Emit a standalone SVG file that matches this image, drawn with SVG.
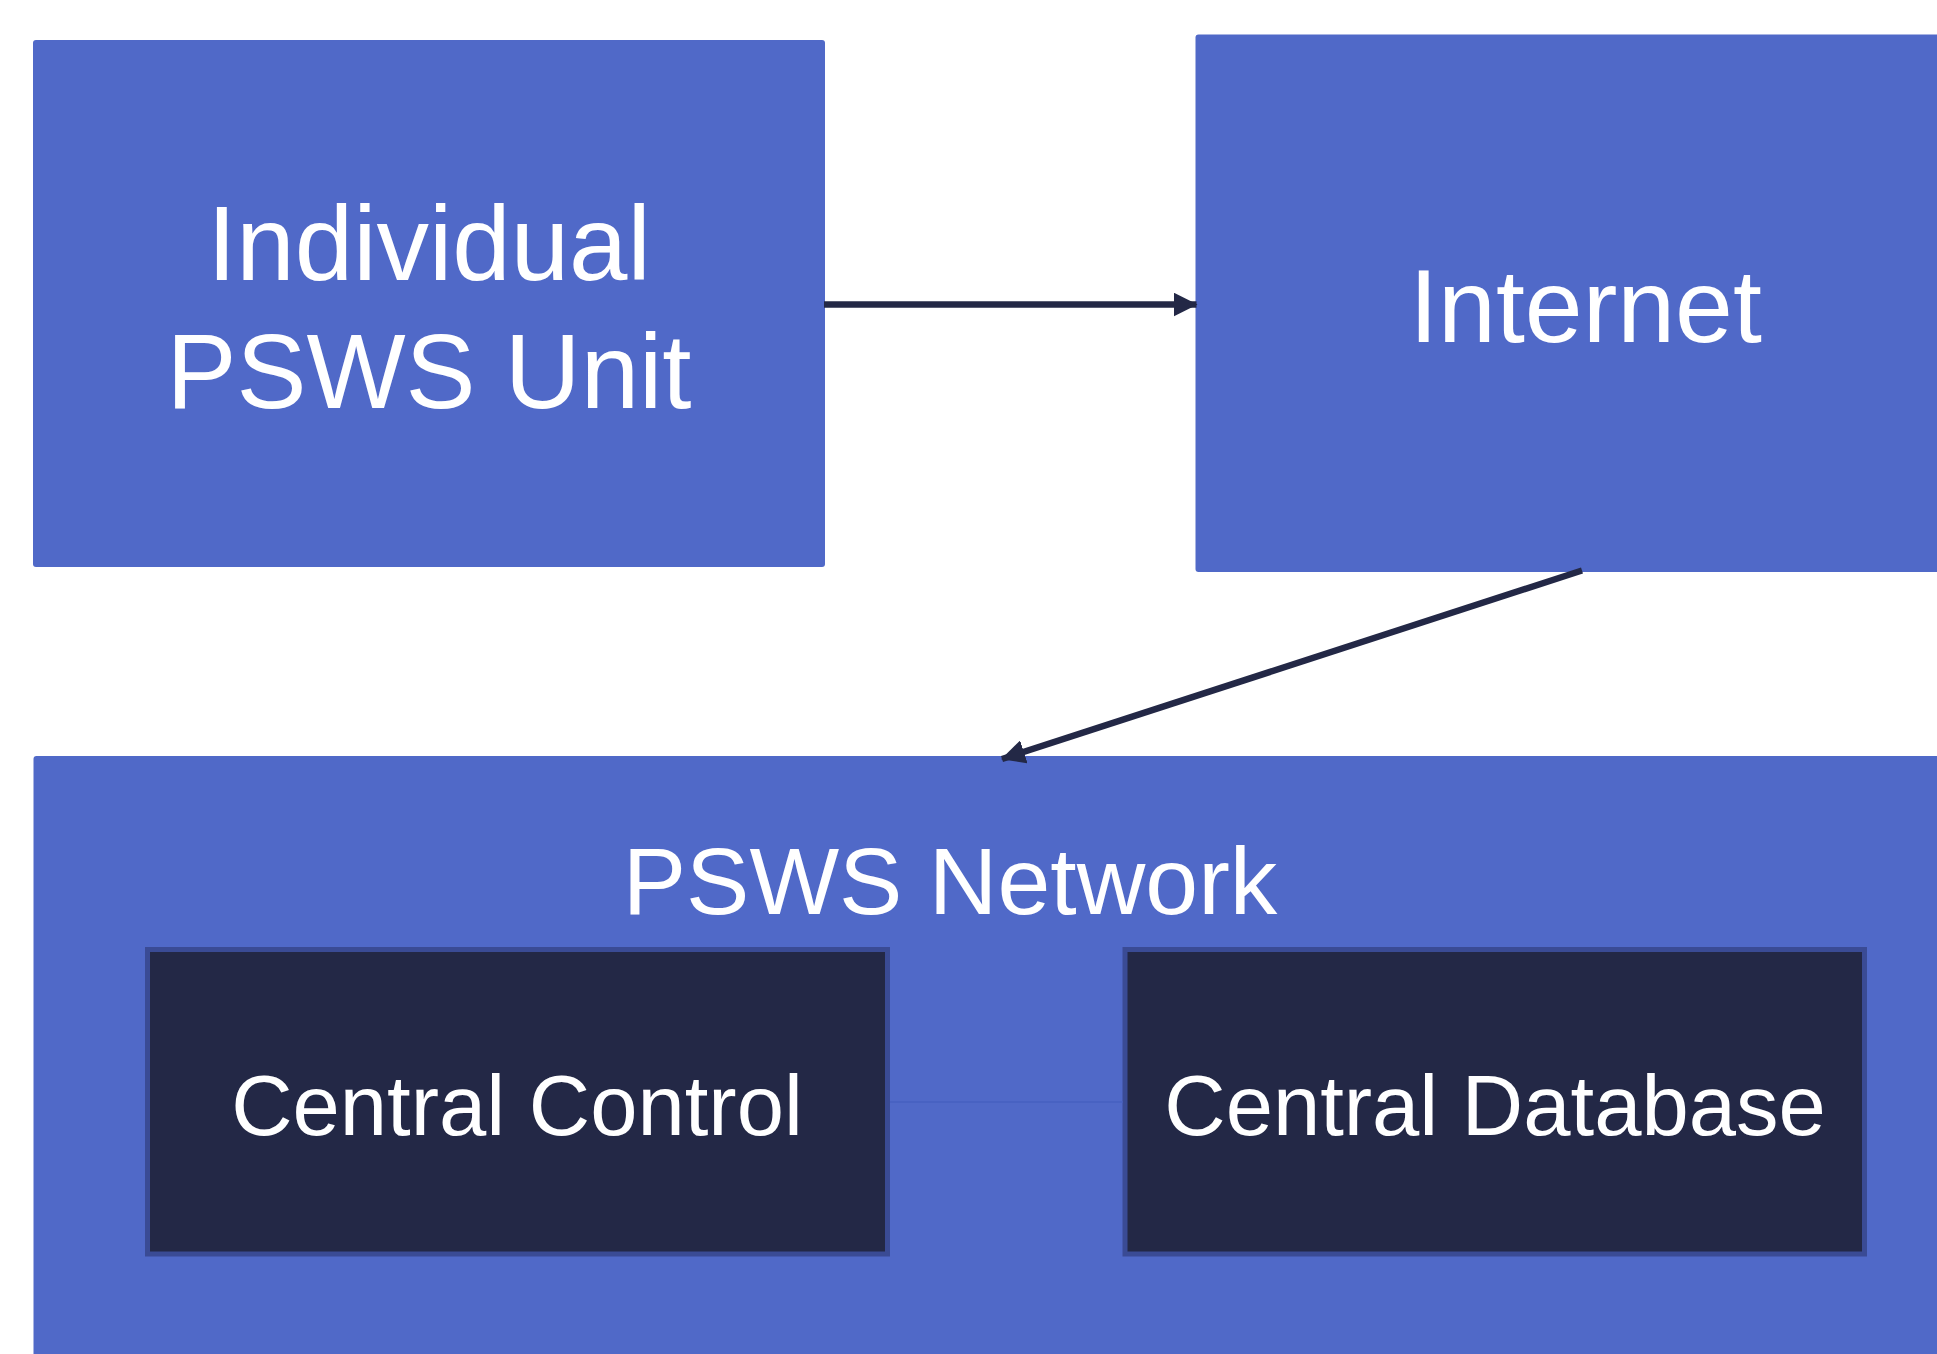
<svg xmlns="http://www.w3.org/2000/svg" width="1937" height="1354" viewBox="0 0 1937 1354">
  <style>
    .panel { fill: #5069c8; }
    .inner { fill: #232846; stroke: #3a4b95; stroke-width: 5; }
    .label { fill: #ffffff; font-family: "Liberation Sans", Arial, sans-serif; text-anchor: middle; }
    .flow { stroke: #232846; stroke-width: 6.5; fill: none; }
    .link { stroke: #4862c2; stroke-width: 2; fill: none; }
  </style>
  <defs>
    <marker id="arrow" viewBox="0 0 24 24" refX="23" refY="12" markerWidth="24" markerHeight="24" markerUnits="userSpaceOnUse" orient="auto">
      <path d="M0,0 L24,12 L0,24 Z" fill="#232846"/>
    </marker>
  </defs>
  <rect width="1937" height="1354" fill="#ffffff"/>

  <g id="network">
    <rect class="panel" x="33.5" y="756" width="1960" height="640" rx="3"/>
    <text class="label" x="950" y="914" font-size="95">PSWS Network</text>
  </g>

  <g id="individual-unit">
    <rect class="panel" x="33" y="40" width="792" height="527" rx="3"/>
    <text class="label" x="429" y="280" font-size="105">Individual</text>
    <text class="label" x="429" y="408" font-size="105">PSWS Unit</text>
  </g>

  <g id="internet">
    <rect class="panel" x="1195.5" y="34.5" width="780" height="537.5" rx="3"/>
    <text class="label" x="1585.5" y="342" font-size="104">Internet</text>
  </g>

  <g id="central-control">
    <rect class="inner" x="147.5" y="949.5" width="740" height="304.5"/>
    <text class="label" x="517" y="1135" font-size="85">Central Control</text>
  </g>

  <g id="central-database">
    <rect class="inner" x="1125" y="949.5" width="739.5" height="304.5"/>
    <text class="label" x="1495" y="1135" font-size="85">Central Database</text>
  </g>

  <g id="connectors">
    <line class="flow" x1="824" y1="304.5" x2="1196.5" y2="304.5" marker-end="url(#arrow)"/>
    <line class="flow" x1="1582" y1="570.5" x2="1002" y2="759" marker-end="url(#arrow)"/>
    <line class="link" x1="890" y1="1102" x2="1122.5" y2="1102"/>
  </g>
</svg>
